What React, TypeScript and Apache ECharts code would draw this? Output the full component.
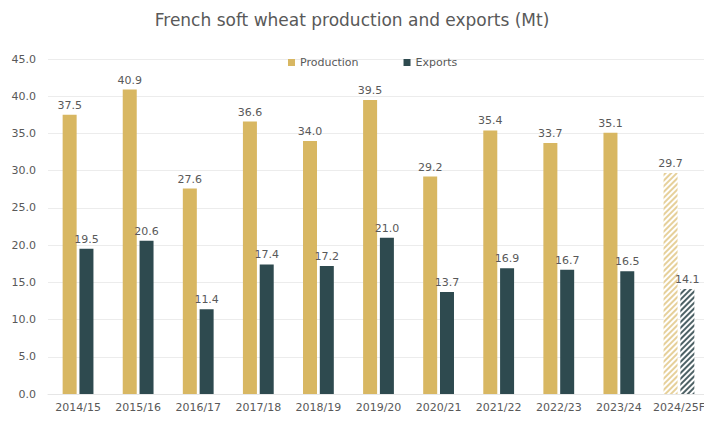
import React, { useEffect, useRef } from "react";
import * as echarts from "echarts";

const categories = ["2014/15", "2015/16", "2016/17", "2017/18", "2018/19", "2019/20", "2020/21", "2021/22", "2022/23", "2023/24", "2024/25F"];
const production = [37.5, 40.9, 27.6, 36.6, 34.0, 39.5, 29.2, 35.4, 33.7, 35.1, 29.7];
const exportsMt = [19.5, 20.6, 11.4, 17.4, 17.2, 21.0, 13.7, 16.9, 16.7, 16.5, 14.1];
const forecastIndex = 10;

const GOLD = "#D8B762";
const DARK = "#2E4A4F";
const TEXT = "#595959";
const FONT = "DejaVu Sans";

function toItems(values: number[], color: string, stripe: string) {
  return values.map((v, i) =>
    i === forecastIndex
      ? {
          value: v,
          itemStyle: {
            color: "#ffffff",
            decal: {
              symbol: "rect",
              symbolSize: 1,
              color: stripe,
              dashArrayX: [1, 0],
              dashArrayY: [2, 2],
              rotation: -Math.PI / 4,
            },
          },
        }
      : { value: v, itemStyle: { color } }
  );
}

export default function App() {
  const ref = useRef<HTMLDivElement>(null);
  useEffect(() => {
    if (!ref.current) return;
    const chart = echarts.init(ref.current, null, { renderer: "svg" });
    const label = {
      show: true,
      position: "top" as const,
      distance: 4,
      color: TEXT,
      fontSize: 11,
      fontFamily: FONT,
      formatter: (p: any) => Number(p.value).toFixed(1),
    };
    chart.setOption({
      animation: false,
      backgroundColor: "#ffffff",
      title: {
        text: "French soft wheat production and exports (Mt)",
        left: "center",
        top: 6,
        textStyle: { color: TEXT, fontSize: 17, fontWeight: "normal", fontFamily: FONT },
      },
      legend: {
        top: 52,
        left: 283,
        itemWidth: 7,
        itemHeight: 7,
        itemGap: 45,
        icon: "rect",
        textStyle: { color: TEXT, fontSize: 11, fontFamily: FONT },
        data: [
          { name: "Production", itemStyle: { color: GOLD } },
          { name: "Exports", itemStyle: { color: DARK } },
        ],
      },
      grid: { left: 48, right: -5, top: 59, bottom: 32, containLabel: false, outerBoundsMode: "none" },
      xAxis: {
        type: "category",
        data: categories,
        axisLine: { show: true, lineStyle: { color: "#e6e6e6" } },
        axisTick: { show: false },
        axisLabel: { color: TEXT, fontSize: 11, fontFamily: FONT, margin: 8, interval: 0 },
      },
      yAxis: {
        type: "value",
        min: 0,
        max: 45,
        interval: 5,
        axisLine: { show: false },
        axisTick: { show: false },
        splitLine: { lineStyle: { color: "#ececec" } },
        axisLabel: {
          color: TEXT,
          fontSize: 11,
          fontFamily: FONT,
          margin: 12,
          formatter: (v: number) => v.toFixed(1),
        },
      },
      series: [
        {
          name: "Production",
          type: "bar",
          barWidth: 14,
          barGap: "20%",
          data: toItems(production, GOLD, "#E6D09A"),
          label,
        },
        {
          name: "Exports",
          type: "bar",
          barWidth: 14,
          barGap: "20%",
          data: toItems(exportsMt, DARK, "#4E6266"),
          label,
        },
      ],
    });
    return () => chart.dispose();
  }, []);
  return <div ref={ref} style={{ width: 704, height: 426, position: "absolute", left: 0, top: 0 }} />;
}
